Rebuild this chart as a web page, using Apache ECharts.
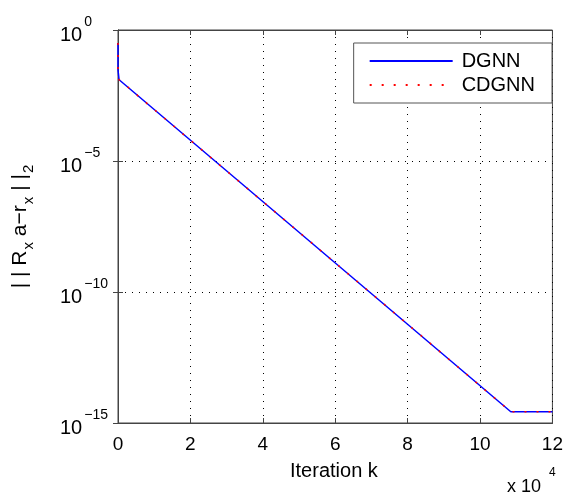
<!DOCTYPE html>
<html>
<head>
<meta charset="utf-8">
<script src="https://cdn.jsdelivr.net/npm/echarts@6/dist/echarts.min.js"></script>
<style>
  html, body { margin: 0; padding: 0; background: #fff; }
  #main { width: 566px; height: 495px; }
</style>
</head>
<body>
<div id="main"></div>
<script>
// iterations k, residual values
const seriesNames = ['DGNN', 'CDGNN'];
const iterK = [0, 0, 300, 108500, 120000];
const dgnnVals = [0.32, 0.03, 0.0126, 2.7e-15, 2.7e-15];
const cdgnnVals = [0.32, 0.03, 0.0126, 2.7e-15, 2.7e-15];

const pairs = (xs, ys) => xs.map((x, i) => [x, ys[i]]);

const fontFam = 'Liberation Sans, Arial, sans-serif';
const chart = echarts.init(document.getElementById('main'));

chart.setOption({
  animation: false,
  textStyle: { fontFamily: fontFam },
  grid: { left: 118, right: 10, top: 30, bottom: 72, show: true, borderColor: '#444', borderWidth: 1 },
  legend: {
    data: seriesNames,
    orient: 'vertical',
    right: 14, top: 43,
    itemWidth: 83, itemHeight: 14, itemGap: 4,
    padding: [8, 17, 8, 15],
    borderColor: '#555', borderWidth: 1,
    backgroundColor: '#fff',
    itemStyle: { opacity: 0 },
    textStyle: { fontSize: 20, color: '#000', fontFamily: fontFam, padding: [0, 0, 0, 4] }
  },
  xAxis: [{
    type: 'value',
    min: 0, max: 120000, interval: 20000,
    axisLine: { show: true, lineStyle: { color: '#444' } },
    axisTick: { inside: true, length: 5, lineStyle: { color: '#444' } },
    axisLabel: {
      color: '#000', fontSize: 19, margin: 12,
      formatter: v => String(v / 10000)
    },
    splitLine: { show: true, lineStyle: { color: '#000', type: [1, 6], width: 1 } }
  }, {
    type: 'value', position: 'top',
    min: 0, max: 120000, interval: 20000,
    axisLine: { show: true, lineStyle: { color: '#444' } },
    axisTick: { inside: true, length: 5, lineStyle: { color: '#444' } },
    axisLabel: { show: false },
    splitLine: { show: false }
  }],
  yAxis: [{
    type: 'log', logBase: 10,
    min: 1e-15, max: 1, interval: 5,
    axisLine: { show: true, lineStyle: { color: '#444' } },
    axisTick: { inside: true, length: 5, lineStyle: { color: '#444' } },
    axisLabel: {
      margin: 58,
      align: 'left',
      formatter: v => {
        const e = Math.round(Math.log10(v));
        return '{b|10}{e|' + (e < 0 ? '\u2212' + (-e) : e) + '}';
      },
      rich: {
        b: { fontSize: 20, color: '#000', fontFamily: fontFam, verticalAlign: 'bottom' },
        e: { fontSize: 14, color: '#000', fontFamily: fontFam, verticalAlign: 'bottom', padding: [0, 0, 16, 2] }
      }
    },
    splitLine: { show: true, lineStyle: { color: '#000', type: [1, 6], width: 1 } },
    name: '{n|| | R}{s|x}{n| a\u2212r}{s|x}{n| | |}{s|2}',
    nameLocation: 'middle',
    nameGap: 80,
    nameTextStyle: {
      rich: {
        n: { fontSize: 21, color: '#000', fontFamily: fontFam, verticalAlign: 'top', padding: [0, 0, 7, 0] },
        s: { fontSize: 15, color: '#000', fontFamily: fontFam, verticalAlign: 'top', padding: [11, 0, 0, 1] }
      }
    }
  }, {
    type: 'log', logBase: 10, position: 'right',
    min: 1e-15, max: 1, interval: 5,
    axisLine: { show: true, lineStyle: { color: '#444' } },
    axisTick: { inside: true, length: 5, lineStyle: { color: '#444' } },
    axisLabel: { show: false },
    splitLine: { show: false }
  }],
  graphic: [
    { type: 'text', left: 290, top: 461, style: { text: 'Iteration k', fontSize: 20, fill: '#000', fontFamily: fontFam } },
    { type: 'text', left: 507, top: 478, style: { text: 'x 10', fontSize: 18, fill: '#000', fontFamily: fontFam } },
    { type: 'text', left: 549, top: 467, style: { text: '4', fontSize: 12, fill: '#000', fontFamily: fontFam } }
  ],
  series: [{
    name: seriesNames[0],
    type: 'line',
    data: pairs(iterK, dgnnVals),
    showSymbol: false, symbol: 'none',
    lineStyle: { color: '#0000ff', width: 1.5 },
    itemStyle: { color: '#0000ff' },
    z: 2
  }, {
    name: seriesNames[1],
    type: 'line',
    data: pairs(iterK, cdgnnVals),
    showSymbol: false, symbol: 'none',
    lineStyle: { color: '#ff0000', width: 1.6, type: [2, 10] },
    itemStyle: { color: '#ff0000' },
    z: 3
  }]
});
</script>
</body>
</html>
